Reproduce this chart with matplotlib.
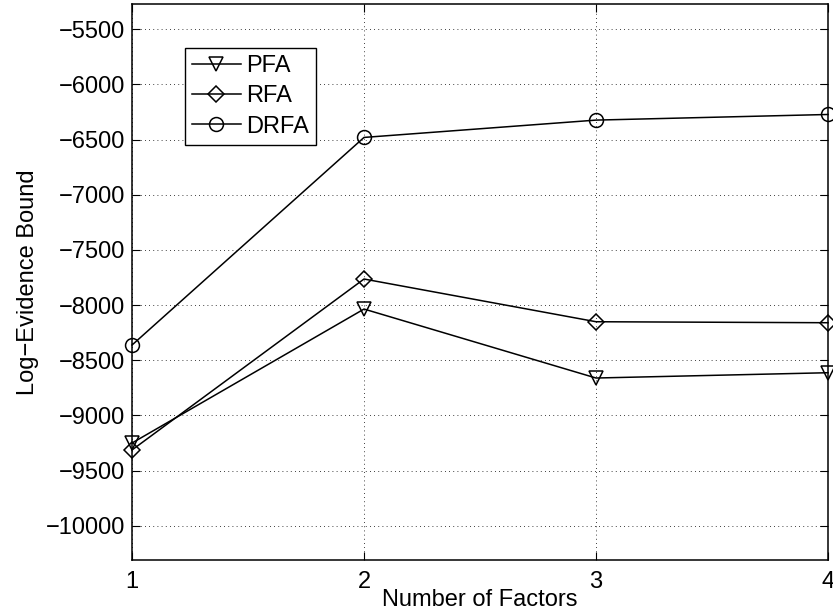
import matplotlib

matplotlib.use("Agg")

import matplotlib.pyplot as plt

plt.rcParams['font.family'] = ['Liberation Sans', 'DejaVu Sans']
plt.rcParams['font.size'] = 17

# %% data
factors = [1, 2, 3, 4]
pfa = [-9250, -8036, -8661, -8613]
rfa = [-9313, -7764, -8151, -8160]
drfa = [-8362, -6481, -6324, -6273]

# %% plot
fig = plt.figure(figsize=(8.33, 6.16), dpi=100)
ax = fig.add_axes([0.1585, 0.0909, 0.8355, 0.9026])

style = dict(color='k', linewidth=1.1, markerfacecolor='none', markeredgecolor='k',
             markeredgewidth=1.1, clip_on=False)
ax.plot(factors, pfa, marker='v', markersize=10, label='PFA', **style)
ax.plot(factors, rfa, marker='D', markersize=8, label='RFA', **style)
ax.plot(factors, drfa, marker='o', markersize=10, label='DRFA', **style)

ax.set_xlim(1, 4)
ax.set_ylim(-10310, -5272)
ax.set_xticks(factors)
yt = list(range(-10000, -5499, 500))
ax.set_yticks(yt)
ax.set_yticklabels(['\u2212%d' % abs(v) for v in yt])

ax.grid(True, linestyle=(0, (1, 4)), color='k', linewidth=0.6)
ax.tick_params(direction='in', top=True, right=True, length=6, width=0.8, pad=5)
ax.tick_params(axis='x', pad=8)
for s in ax.spines.values():
    s.set_linewidth(1.1)

ax.set_xlabel('Number of Factors', labelpad=-3)
ax.set_ylabel('Log\u2212Evidence Bound', labelpad=5)

leg = ax.legend(loc='upper left', bbox_to_anchor=(0.0755, 0.921), borderaxespad=0,
                fancybox=False, edgecolor='k', framealpha=1, handlelength=2.1,
                handletextpad=0.2, labelspacing=0.35, borderpad=0.3)
leg.get_frame().set_linewidth(1.0)

fig.savefig('out.png', dpi=100)
